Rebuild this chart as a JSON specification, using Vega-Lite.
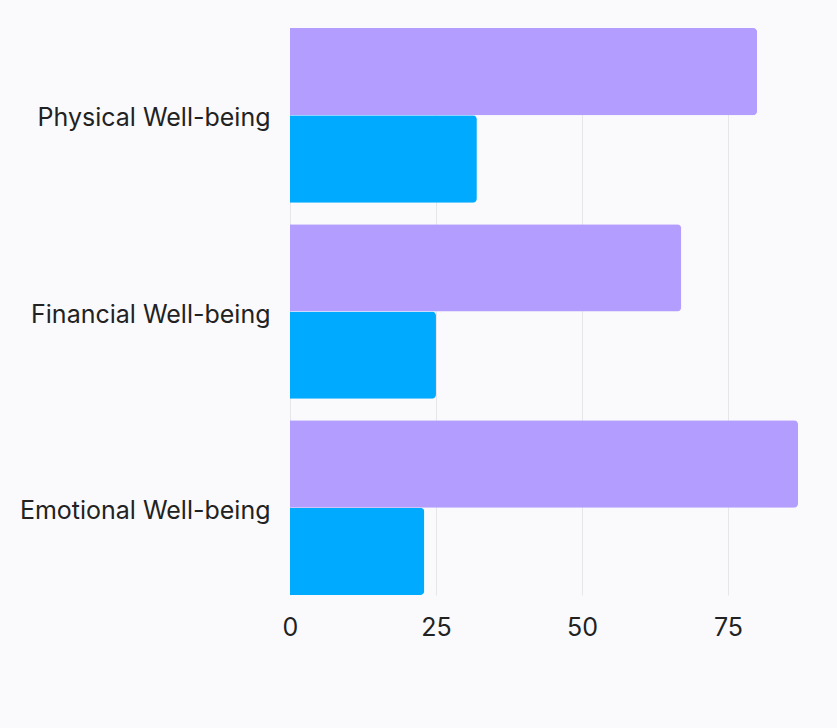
{
  "$schema": "https://vega.github.io/schema/vega-lite/v6.json",
  "autosize": {"type": "none"},
  "padding": {"left": 290, "top": 28, "right": 39, "bottom": 133},
  "width": 508,
  "height": 567,
  "background": "#fafafc",
  "config": {
    "view": {"stroke": null},
    "font": "Inter",
    "axis": {"labelFont": "Inter", "labelColor": "#222222", "domain": false, "ticks": false}
  },
  "data": {
    "values": [
      {"category": "Physical Well-being", "series": "Series 1", "value": 80},
      {"category": "Physical Well-being", "series": "Series 2", "value": 32},
      {"category": "Financial Well-being", "series": "Series 1", "value": 67},
      {"category": "Financial Well-being", "series": "Series 2", "value": 25},
      {"category": "Emotional Well-being", "series": "Series 1", "value": 87},
      {"category": "Emotional Well-being", "series": "Series 2", "value": 23}
    ]
  },
  "mark": {"type": "bar", "cornerRadiusEnd": 4},
  "encoding": {
    "y": {
      "field": "category",
      "type": "nominal",
      "sort": null,
      "title": null,
      "scale": {"paddingInner": 0.109, "paddingOuter": 0},
      "axis": {"labelFontSize": 25, "labelPadding": 20, "labelLimit": 400, "labelOffset": 3, "grid": false}
    },
    "yOffset": {"field": "series", "type": "nominal", "sort": ["Series 1", "Series 2"], "scale": {"paddingInner": 0}},
    "x": {
      "field": "value",
      "type": "quantitative",
      "title": null,
      "scale": {"domain": [0, 87], "nice": false},
      "axis": {"values": [0, 25, 50, 75], "labelFontSize": 25, "labelPadding": 20, "grid": true, "gridColor": "#e6e6ea", "labelAlign": "center"}
    },
    "color": {
      "field": "series",
      "type": "nominal",
      "scale": {"domain": ["Series 1", "Series 2"], "range": ["#b39dff", "#00aaff"]},
      "legend": null
    }
  }
}
